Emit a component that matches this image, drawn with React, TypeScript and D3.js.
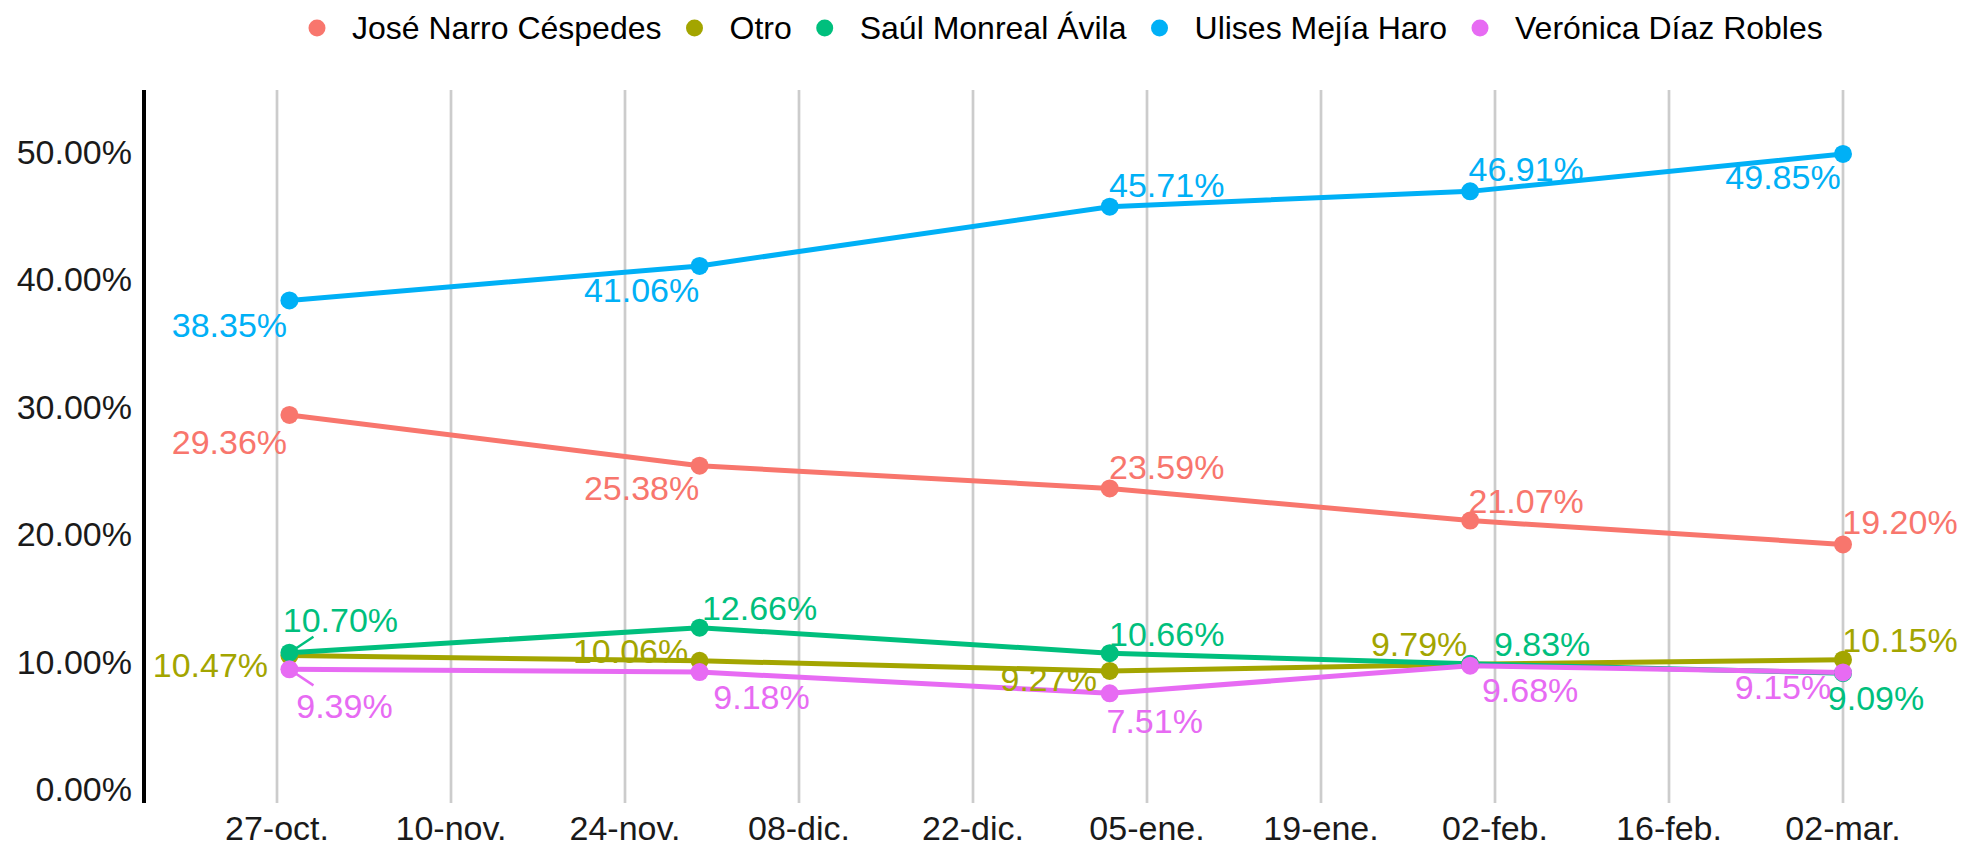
import React from "react";
import * as d3 from "d3";

const dates = ["2020-10-28", "2020-11-30", "2021-01-02", "2021-01-31", "2021-03-02"];
const seriesNames = ["José Narro Céspedes", "Otro", "Saúl Monreal Ávila", "Ulises Mejía Haro", "Verónica Díaz Robles"];
const narro = [29.36, 25.38, 23.59, 21.07, 19.2];
const otro = [10.47, 10.06, 9.27, 9.79, 10.15];
const monreal = [10.7, 12.66, 10.66, 9.83, 9.09];
const mejia = [38.35, 41.06, 45.71, 46.91, 49.85];
const diaz = [9.39, 9.18, 7.51, 9.68, 9.15];
const seriesValues = [narro, otro, monreal, mejia, diaz];
const colors = ["#F8766D", "#A3A500", "#00BF7D", "#00B0F6", "#E76BF3"];
const yTicks = [0, 10, 20, 30, 40, 50];
const xTickStart = "2020-10-27";
const xTickCount = 10;
const monthAbbr = ["ene.", "feb.", "mar.", "abr.", "may.", "jun.", "jul.", "ago.", "sep.", "oct.", "nov.", "dic."];

// label placement offsets (repel-like), per series per point: [dx, dy, segment]
const labelOffsets: [number, number, boolean][][] = [
  [[-60, 27, false], [-58, 22, false], [57, -21, false], [56, -20, false], [57, -22, false]],
  [[-79, 9, false], [-69, -10, false], [-61, 8, false], [-51, -20, false], [57, -20, false]],
  [[51, -33, true], [60, -20, false], [57, -19, false], [72, -20, false], [33, 25, false]],
  [[-60, 25, false], [-58, 24, false], [57, -22, false], [56, -22, false], [-60, 23, false]],
  [[55, 37, true], [62, 25, false], [45, 28, false], [60, 24, false], [-60, 15, false]],
];

const W = 1967;
const H = 846;
const FONT = "'Liberation Sans', Arial, Helvetica, sans-serif";
const FS = 34;
const LFS = 32;

function measure(text: string): number {
  if (typeof document === "undefined") return text.length * LFS * 0.55;
  const c = document.createElement("canvas");
  const ctx = c.getContext("2d");
  if (!ctx) return text.length * LFS * 0.55;
  ctx.font = `${LFS}px 'Liberation Sans', Arial`;
  return ctx.measureText(text).width;
}

export default function App() {
  const parse = d3.utcParse("%Y-%m-%d");
  const pDates = dates.map((d) => parse(d) as Date);
  const t0 = parse(xTickStart) as Date;
  const tickDates = d3.range(xTickCount).map((i) => d3.utcDay.offset(t0, i * 14));

  const x = d3.scaleUtc().domain([tickDates[0], tickDates[tickDates.length - 1]]).range([277, 1843]);
  const y = d3.scaleLinear().domain([0, 50]).range([789, 152]);
  const panelTop = 90;
  const panelBottom = 803;
  const axisX = 144;

  const line = d3
    .line<number>()
    .x((_, i) => x(pDates[i]))
    .y((v) => y(v));

  const fmtDate = (d: Date) => `${d3.utcFormat("%d")(d)}-${monthAbbr[d.getUTCMonth()]}`;

  // legend layout
  const dotR = 8.5;
  const legendY = 28;
  const widths = seriesNames.map(measure);
  const dotToText = 35;
  const itemGap = 33;
  let dot = 317;
  const legendItems = seriesNames.map((name, i) => {
    const item = { name, dot, text: dot + dotToText, color: colors[i] };
    dot = item.text + widths[i] + itemGap;
    return item;
  });

  return (
    <svg width={W} height={H} style={{ position: "absolute", left: 0, top: 0, background: "#fff" }} fontFamily={FONT}>
      {/* gridlines */}
      {tickDates.map((d, i) => (
        <line key={"g" + i} x1={x(d)} x2={x(d)} y1={panelTop} y2={panelBottom} stroke="#cccccc" strokeWidth={2.7} />
      ))}
      {/* y axis */}
      <line x1={axisX} x2={axisX} y1={panelTop} y2={panelBottom} stroke="#000" strokeWidth={4} />
      {yTicks.map((t) => (
        <text key={"y" + t} x={132} y={y(t)} textAnchor="end" dominantBaseline="central" fontSize={FS} fill="#1a1a1a">
          {t.toFixed(2) + "%"}
        </text>
      ))}
      {tickDates.map((d, i) => (
        <text key={"x" + i} x={x(d)} y={828} textAnchor="middle" dominantBaseline="central" fontSize={FS} fill="#1a1a1a">
          {fmtDate(d)}
        </text>
      ))}
      {/* lines */}
      {seriesValues.map((vals, s) => (
        <path key={"l" + s} d={line(vals) || ""} fill="none" stroke={colors[s]} strokeWidth={5} />
      ))}
      {/* points */}
      {seriesValues.map((vals, s) =>
        vals.map((v, i) => <circle key={`p${s}-${i}`} cx={x(pDates[i])} cy={y(v)} r={9} fill={colors[s]} />)
      )}
      {/* labels */}
      {seriesValues.map((vals, s) =>
        vals.map((v, i) => {
          const [dx, dy, seg] = labelOffsets[s][i];
          const px = x(pDates[i]);
          const py = y(v);
          const lx = px + dx;
          const ly = py + dy;
          return (
            <g key={`t${s}-${i}`}>
              {seg && (
                <line
                  x1={px + Math.sign(dx) * 6}
                  y1={py + Math.sign(dy) * 4}
                  x2={px + Math.sign(dx) * 24}
                  y2={py + Math.sign(dy) * 16}
                  stroke={colors[s]}
                  strokeWidth={2.5}
                />
              )}
              <text x={lx} y={ly} textAnchor="middle" dominantBaseline="central" fontSize={FS} fill={colors[s]}>
                {v.toFixed(2) + "%"}
              </text>
            </g>
          );
        })
      )}
      {/* legend */}
      {legendItems.map((it) => (
        <g key={it.name}>
          <circle cx={it.dot} cy={legendY} r={dotR} fill={it.color} />
          <text x={it.text} y={legendY} dominantBaseline="central" fontSize={LFS} fill="#000">
            {it.name}
          </text>
        </g>
      ))}
    </svg>
  );
}
